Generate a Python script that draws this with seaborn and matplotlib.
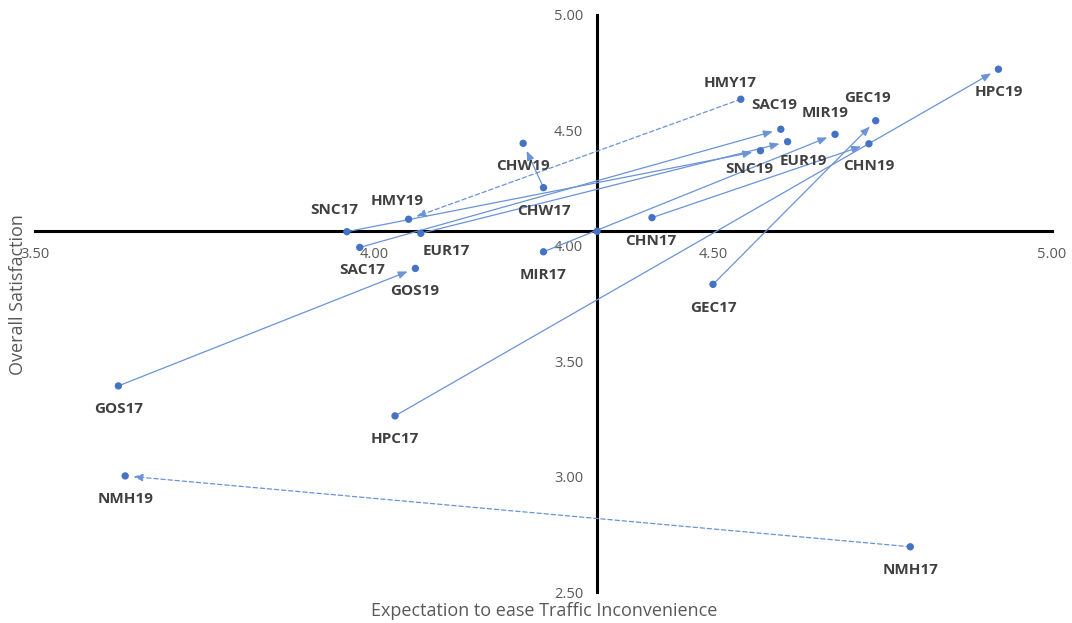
import matplotlib
matplotlib.use("Agg")
import matplotlib.pyplot as plt
import seaborn as sns
import pandas as pd

# Survey scores per site, 2017 and 2019
sites = ["SNC", "SAC", "HMY", "EUR", "GOS", "CHW", "MIR", "CHN", "GEC", "HPC", "NMH"]
expect_17 = [3.960, 3.979, 4.541, 4.069, 3.623, 4.250, 4.250, 4.410, 4.500, 4.031, 4.791]
satisf_17 = [4.061, 3.993, 4.635, 4.054, 3.393, 4.252, 3.974, 4.122, 3.833, 3.263, 2.696]
expect_19 = [4.570, 4.600, 4.051, 4.610, 4.061, 4.220, 4.680, 4.730, 4.740, 4.921, 3.633]
satisf_19 = [4.412, 4.505, 4.115, 4.451, 3.902, 4.444, 4.483, 4.442, 4.542, 4.765, 3.003]

# Overall average: the quadrant axes cross here
avg_expect = 4.329
avg_satisf = 4.063

# Sites whose change is drawn with a dashed arrow
dashed_sites = ["HMY", "NMH"]

x_ticks = [3.50, 4.00, 4.50, 5.00]
y_ticks = [2.50, 3.00, 3.50, 4.00, 4.50, 5.00]

# Label placement relative to each point (pixels, right / down)
label_offsets = {
    "SNC17": (-13, -22), "SAC17": (2, 23), "HMY17": (-11, -16), "EUR17": (26, 18),
    "GOS17": (0, 23), "CHW17": (0, 23), "MIR17": (0, 23), "CHN17": (-1, 23),
    "GEC17": (0, 24), "HPC17": (0, 23), "NMH17": (0, 23),
    "SNC19": (-11, 18), "SAC19": (-7, -24), "HMY19": (-11, -18), "EUR19": (16, 19),
    "GOS19": (-1, 23), "CHW19": (0, 23), "MIR19": (-10, -21), "CHN19": (0, 22),
    "GEC19": (-8, -23), "HPC19": (0, 23), "NMH19": (0, 23),
}

rows = []
for s, x, y in zip(sites, expect_17, satisf_17):
    rows.append({"label": s + "17", "expect": x, "satisf": y})
for s, x, y in zip(sites, expect_19, satisf_19):
    rows.append({"label": s + "19", "expect": x, "satisf": y})
df = pd.DataFrame(rows)

sns.set_theme(style="white")
plt.rcParams["font.family"] = ["Open Sans", "DejaVu Sans"]

DPI = 100
fig = plt.figure(figsize=(10.72, 6.23), dpi=DPI)
ax = fig.add_axes([35 / 1072, 1 - 592 / 623, (1052 - 35) / 1072, (592 - 15) / 623])

POINT = "#4472C4"
LINE = "#6A93D8"

# Change arrows, 2017 -> 2019
for s, x0, y0, x1, y1 in zip(sites, expect_17, satisf_17, expect_19, satisf_19):
    ls = (0, (3.5, 2.2)) if s in dashed_sites else "-"
    ax.annotate(
        "", xy=(x1, y1), xytext=(x0, y0),
        arrowprops=dict(
            arrowstyle="-|>,head_length=0.55,head_width=0.22",
            mutation_scale=10, color=LINE, lw=0.9, linestyle=ls,
            shrinkA=0, shrinkB=6,
        ),
        zorder=2,
    )

sns.scatterplot(data=df, x="expect", y="satisf", ax=ax, color=POINT,
                s=28, edgecolor="none", zorder=3, legend=False)
ax.scatter([avg_expect], [avg_satisf], s=28, color=POINT, edgecolor="none", zorder=3)

for _, r in df.iterrows():
    dx, dy = label_offsets[r["label"]]
    ax.annotate(r["label"], (r["expect"], r["satisf"]), xytext=(dx, -dy),
                textcoords="offset pixels", ha="center", va="center",
                fontsize=11, fontweight="bold", color="#404040", zorder=4)

ax.set_xlim(3.5, 5.0)
ax.set_ylim(2.5, 5.0)
ax.set_xticks(x_ticks)
ax.set_yticks(y_ticks)
ax.set_xticklabels([f"{v:.2f}" for v in x_ticks])
ax.set_yticklabels([f"{v:.2f}" for v in y_ticks])

# Quadrant axes through the overall average
for side in ("top", "right"):
    ax.spines[side].set_visible(False)
ax.spines["left"].set_position(("data", avg_expect))
ax.spines["bottom"].set_position(("data", avg_satisf))
for side in ("left", "bottom"):
    ax.spines[side].set_color("black")
    ax.spines[side].set_linewidth(2.2)
    ax.spines[side].set_zorder(1)
ax.tick_params(axis="x", length=0, pad=11, labelsize=10.5, labelcolor="#595959")
ax.tick_params(axis="y", length=0, pad=10, labelsize=10.5, labelcolor="#595959")
ax.grid(False)
ax.set_xlabel("")
ax.set_ylabel("")

fig.text(544 / 1072, 1 - 611 / 623, "Expectation to ease Traffic Inconvenience",
         ha="center", va="center", fontsize=13, color="#595959")
fig.text(18 / 1072, 1 - 295 / 623, "Overall Satisfaction", rotation=90,
         ha="center", va="center", fontsize=13, color="#595959")

fig.savefig("out.png", dpi=DPI, facecolor="white")
